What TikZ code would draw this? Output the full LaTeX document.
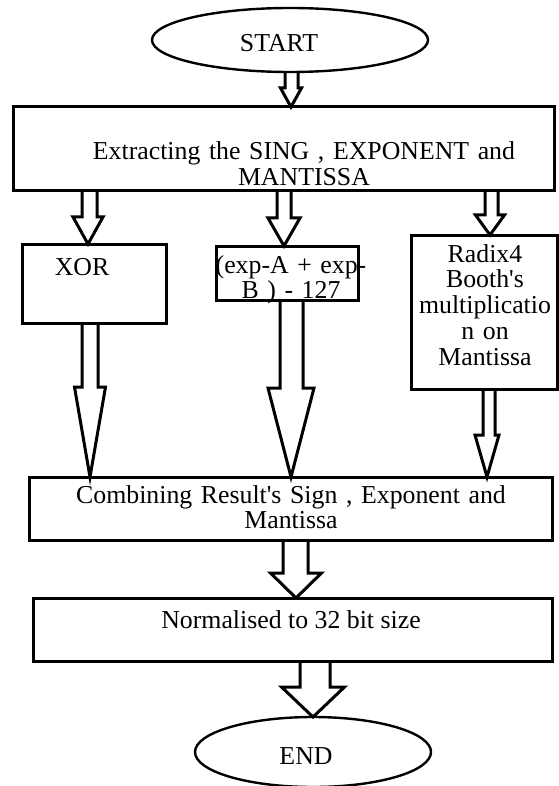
\documentclass[tikz,border=0pt]{standalone}
\usepackage{fontspec}
\setmainfont{Liberation Serif}
\usetikzlibrary{calc,shapes.geometric}

\tikzset{
  boxshape/.style={draw, line width=3pt, rectangle, inner sep=0pt, outer sep=0pt},
  oval/.style={draw, line width=2.4pt, ellipse, inner sep=0pt, outer sep=0pt},
  txt/.style={font=\fontsize{25.8}{25.8}\selectfont, inner sep=0pt, anchor=base},
  mtxt/.style={txt, align=center, text width=#1},
  blockline/.style={draw, line width=3pt, line join=miter, miter limit=10}
}

% Hollow block arrow from the bottom of node #1 to the top of node #2.
% #3 tip x, #4/#5 shaft edges relative to the tip, #6 half width of the head, #7 head length
\newcommand\blockarrow[7]{%
  \draw[blockline] let \p1=(#1.south), \p2=(#2.north) in
    ({(#3+#4)*1pt},\y1) -- ({(#3+#4)*1pt},\y2+#7pt) -- ({(#3-#6)*1pt},\y2+#7pt)
    -- ({#3*1pt},\y2) -- ({(#3+#6)*1pt},\y2+#7pt) -- ({(#3+#5)*1pt},\y2+#7pt)
    -- ({(#3+#5)*1pt},\y1);}

\begin{document}
\begin{tikzpicture}[x=1pt,y=-1pt]
\useasboundingbox (0,0) rectangle (558,786);

% terminals
\node[oval, minimum width=276pt, minimum height=64pt] (start) at (290,40) {};
\node[oval, minimum width=236pt, minimum height=70pt] (end) at (313,752) {};

% process boxes
\node[boxshape, minimum width=541pt, minimum height=84pt] (extract) at (283.5,149) {};
\node[boxshape, minimum width=144pt, minimum height=79pt] (xor) at (94,283.5) {};
\node[boxshape, minimum width=142pt, minimum height=54pt] (expo) at (287,273) {};
\node[boxshape, minimum width=146pt, minimum height=154pt] (booth) at (484,312) {};
\node[boxshape, minimum width=523pt, minimum height=63pt] (combine) at (290.5,508.5) {};
\node[boxshape, minimum width=519pt, minimum height=63pt] (norm) at (292.5,629.5) {};

% texts
\node[txt] (starttxt) at (279,52) {START};
\node[mtxt=520pt] (extracttxt) at (304,160) {Extracting the SING , EXPONENT and\\MANTISSA};
\node[txt] (xortxt) at (82,275) {XOR};
\node[mtxt=200pt] (expotxt) at (291,273) {(exp-A + exp-\\B ) - 127};
\node[mtxt=150pt] (boothtxt) at (485,262) {Radix4\\Booth\textquotesingle s\\multiplicatio\\n on\\Mantissa};
\node[mtxt=520pt] (combinetxt) at (291,503) {Combining Result\textquotesingle s Sign , Exponent and\\Mantissa};
\node[txt] (normtxt) at (291,628) {Normalised to 32 bit size};
\node[txt] (endtxt) at (306,764) {END};

% connectors
\blockarrow{start}{extract}{291}{-6}{7}{10.5}{19}
\blockarrow{extract}{xor}{88}{-6}{9}{15}{27}
\blockarrow{extract}{expo}{284}{-7}{7}{16}{28}
\blockarrow{extract}{booth}{490}{-5}{8}{14.5}{20}
\blockarrow{xor}{combine}{90}{-8}{8}{15.5}{90}
\blockarrow{expo}{combine}{291}{-11}{12}{23}{89}
\blockarrow{booth}{combine}{487}{-4}{8}{12}{42}
\blockarrow{combine}{norm}{296}{-13}{12}{25.5}{25}
\blockarrow{norm}{end}{313}{-13}{17}{31.5}{30}
\end{tikzpicture}
\end{document}
